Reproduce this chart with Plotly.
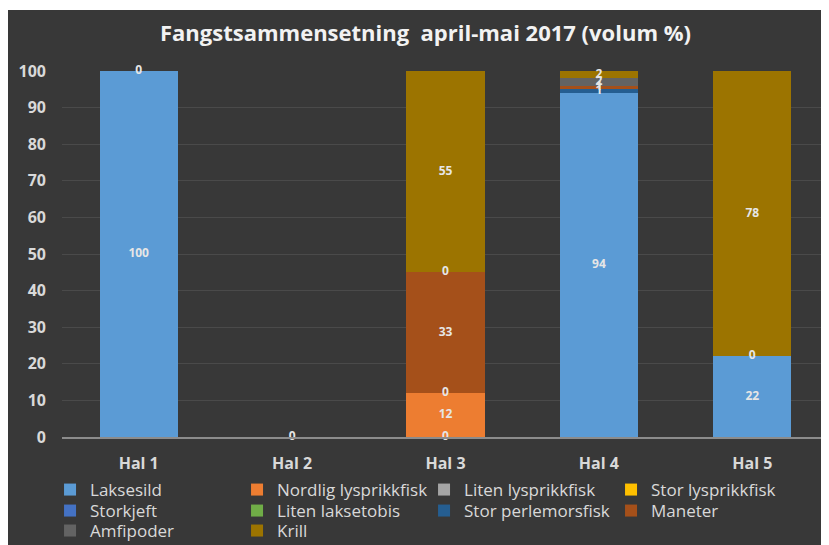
import plotly.graph_objects as go

# catch composition per haul, volume %
hals = ['Hal 1', 'Hal 2', 'Hal 3', 'Hal 4', 'Hal 5']

laksesild = [100, 0, 0, 94, 22]
nordlig_lysprikkfisk = [None, None, 12, None, None]
liten_lysprikkfisk = [None, None, 0, None, None]
stor_lysprikkfisk = [None, None, None, None, None]
storkjeft = [None, None, None, None, None]
liten_laksetobis = [None, None, None, None, None]
stor_perlemorsfisk = [None, None, None, 1, None]
maneter = [None, None, 33, 1, None]
amfipoder = [None, None, 0, 2, 0]
krill = [0, None, 55, 2, 78]

# one legend per row, 4 entries each
series = [
    ('Laksesild', laksesild, '#5B9BD5', 'legend'),
    ('Nordlig lysprikkfisk', nordlig_lysprikkfisk, '#ED7D31', 'legend'),
    ('Liten lysprikkfisk', liten_lysprikkfisk, '#A5A5A5', 'legend'),
    ('Stor lysprikkfisk', stor_lysprikkfisk, '#FFC000', 'legend'),
    ('Storkjeft', storkjeft, '#4472C4', 'legend2'),
    ('Liten laksetobis', liten_laksetobis, '#70AD47', 'legend2'),
    ('Stor perlemorsfisk', stor_perlemorsfisk, '#255E91', 'legend2'),
    ('Maneter', maneter, '#A5501A', 'legend2'),
    ('Amfipoder', amfipoder, '#636363', 'legend3'),
    ('Krill', krill, '#9C7400', 'legend3'),
]

fig = go.Figure()

base = [0] * len(hals)
lab_x, lab_y, lab_t = [], [], []
for name, vals, col, leg in series:
    fig.add_trace(go.Bar(
        x=hals, y=[v if v is not None else 0 for v in vals], name=name,
        marker=dict(color=col, line=dict(width=0)), legend=leg,
        hoverinfo='skip',
    ))
    for i, v in enumerate(vals):
        if v is None:
            continue
        lab_x.append(hals[i])
        lab_y.append(base[i] + v / 2)
        lab_t.append(str(v))
        base[i] += v

fig.add_trace(go.Scatter(
    x=lab_x, y=lab_y, text=lab_t, mode='text', showlegend=False, cliponaxis=False,
    textfont=dict(family='Open Sans', size=12, color='#e6e6e6', weight='bold'),
    hoverinfo='skip',
))

# page body has an 8px margin, so the figure is a bit smaller than the window
W, H = 821, 537

leg_font = dict(family='Open Sans', size=17, color='#d9d9d9')
def leg(y):
    return dict(x=0.0512, y=y, xref='container', yref='container', xanchor='left', yanchor='middle',
                orientation='h', font=leg_font, bgcolor='rgba(0,0,0,0)',
                itemwidth=30, entrywidth=142, entrywidthmode='pixels', traceorder='normal')

fig.update_layout(
    width=W, height=H,
    barmode='stack', bargap=0.49,
    paper_bgcolor='white', plot_bgcolor='rgba(0,0,0,0)',
    margin=dict(l=54, r=0, t=63, b=108, autoexpand=False),
    title=dict(text='<b>Fangstsammensetning  april-mai 2017 (volum %)</b>',
               x=0.5085, xanchor='center', y=0.953, yanchor='middle',
               font=dict(family='Open Sans', size=22, color='#f2f2f2')),
    xaxis=dict(showgrid=False, showline=True, linecolor='#8c8c8c', linewidth=1.5,
               tickfont=dict(family='Open Sans', size=16, color='#d9d9d9', weight='bold'),
               ticks='', ticklabelstandoff=11, fixedrange=True),
    yaxis=dict(range=[0, 100], dtick=10, showgrid=True, gridcolor='#4a4a4a',
               zeroline=False, showline=False, ticks='', ticklabelstandoff=15,
               tickfont=dict(family='Open Sans', size=16, color='#d9d9d9', weight='bold'),
               fixedrange=True),
    legend=leg(0.1024),
    legend2=leg(0.0633),
    legend3=leg(0.0261),
    shapes=[dict(type='rect', xref='paper', yref='paper', layer='below',
                 x0=-54 / 767, x1=1.0, y0=-108 / 366, y1=1 + 61 / 366,
                 fillcolor='#383838', line=dict(width=0))],
)

fig.write_html('out.html')
